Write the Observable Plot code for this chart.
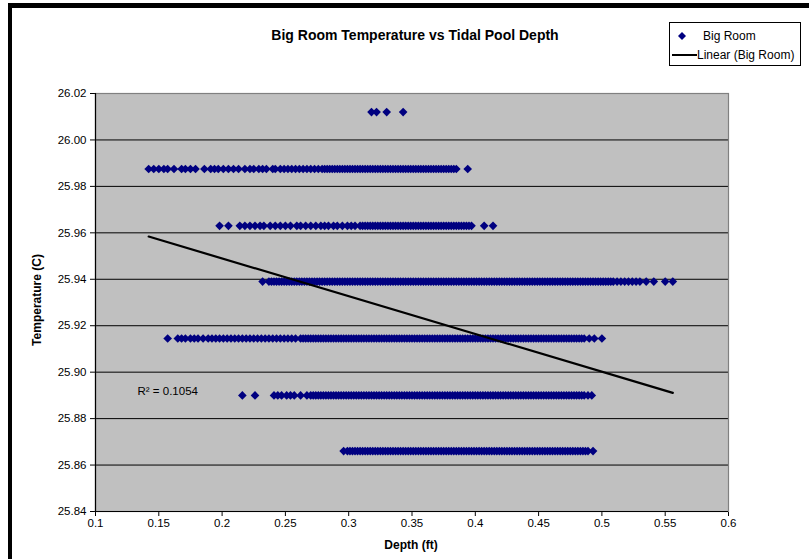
<!DOCTYPE html>
<html>
<head>
<meta charset="utf-8">
<script src="https://cdn.jsdelivr.net/npm/d3@7"></script>
<script src="https://cdn.jsdelivr.net/npm/@observablehq/plot@0.6"></script>
<style>
  html, body { margin: 0; padding: 0; background: #fff; }
  body { width: 809px; height: 559px; overflow: hidden; position: relative; font-family: "Liberation Sans", Arial, sans-serif; }
  #frame { position: absolute; left: 8px; top: 3px; width: 900px; height: 700px; border-top: 5px solid #000; border-left: 4px solid #000; box-sizing: border-box; }
  #chart { position: absolute; left: 0; top: 0; }
  #title { position: absolute; left: 0; width: 830px; top: 27px; text-align: center; font-weight: bold; font-size: 14px; color: #000; }
  #ytitle { position: absolute; left: 37px; top: 300px; transform: translate(-50%, -50%) rotate(-90deg); font-weight: bold; font-size: 12px; white-space: nowrap; }
  #xtitle { position: absolute; left: 411px; top: 545px; transform: translate(-50%, -50%); font-weight: bold; font-size: 12px; white-space: nowrap; }
  #legend { position: absolute; left: 669px; top: 22px; width: 132px; height: 44px; border: 1px solid #000; box-sizing: border-box; background: #fff; font-size: 12px; }
  .lg { position: absolute; left: 0; height: 14px; line-height: 14px; white-space: nowrap; }
  .lg svg { position: absolute; top: 0; }
</style>
</head>
<body>
<div id="frame"></div>
<div id="chart"></div>
<div id="title"></div>
<div id="ytitle"></div>
<div id="xtitle"></div>
<div id="legend"></div>
<script>
// ---- Text ----
const chartTitle = "Big Room Temperature vs Tidal Pool Depth";
const xTitle = "Depth (ft)";
const yTitle = "Temperature (C)";
const seriesName = "Big Room";
const trendName = "Linear (Big Room)";
const r2Label = "R\u00B2 = 0.1054";

// ---- Axis ticks ----
const xTicks = [0.1, 0.15, 0.2, 0.25, 0.3, 0.35, 0.4, 0.45, 0.5, 0.55, 0.6];
const xTickLabels = ["0.1", "0.15", "0.2", "0.25", "0.3", "0.35", "0.4", "0.45", "0.5", "0.55", "0.6"];
const yTicks = [25.84, 25.86, 25.88, 25.90, 25.92, 25.94, 25.96, 25.98, 26.00, 26.02];
const yTickLabels = ["25.84", "25.86", "25.88", "25.90", "25.92", "25.94", "25.96", "25.98", "26.00", "26.02"];
const gridTemps = [25.86, 25.88, 25.90, 25.92, 25.94, 25.96, 25.98, 26.00];

// ---- Data: temperature levels (C) and the depths (ft) observed at each ----
const temps = [26.012, 25.9875, 25.963, 25.939, 25.9145, 25.890, 25.866];

const depths26012 = [0.318, 0.322, 0.330, 0.343];

const depths25988 = [0.142, 0.146, 0.150, 0.154, 0.157, 0.162, 0.168, 0.171, 0.175, 0.179,
  0.186, 0.191, 0.194, 0.197, 0.201, 0.205, 0.209, 0.213, 0.218, 0.222, 0.225, 0.229, 0.232,
  0.235, 0.240, 0.242, 0.246, 0.249, 0.252, 0.255, 0.258, 0.261, 0.264, 0.267, 0.270, 0.273,
  0.276, 0.279, 0.281, 0.283, 0.285, 0.287, 0.289, 0.291, 0.293, 0.295, 0.297, 0.299, 0.301,
  0.303, 0.305, 0.307, 0.309, 0.311, 0.313, 0.315, 0.317, 0.319, 0.321, 0.323, 0.325, 0.327,
  0.329, 0.331, 0.333, 0.335, 0.337, 0.339, 0.341, 0.343, 0.345, 0.347, 0.349, 0.351, 0.353,
  0.355, 0.357, 0.359, 0.361, 0.363, 0.365, 0.367, 0.369, 0.371, 0.373, 0.375, 0.377, 0.379,
  0.381, 0.383, 0.385, 0.394];

const depths25963 = [0.198, 0.205, 0.214, 0.218, 0.222, 0.226, 0.230, 0.233, 0.238, 0.242,
  0.246, 0.250, 0.254, 0.259, 0.262, 0.266, 0.270, 0.274, 0.278, 0.281, 0.284, 0.288, 0.291,
  0.295, 0.299, 0.302, 0.305, 0.309, 0.311, 0.313, 0.315, 0.317, 0.319, 0.321, 0.323, 0.325,
  0.327, 0.329, 0.331, 0.333, 0.335, 0.337, 0.339, 0.341, 0.343, 0.345, 0.347, 0.349, 0.351,
  0.353, 0.355, 0.357, 0.359, 0.361, 0.363, 0.365, 0.367, 0.369, 0.371, 0.373, 0.375, 0.377,
  0.379, 0.381, 0.383, 0.385, 0.387, 0.389, 0.391, 0.393, 0.395, 0.397, 0.407, 0.414];

const depths25939 = [0.232, 0.237, 0.239, 0.241, 0.243, 0.245, 0.247, 0.249, 0.251, 0.253,
  0.255, 0.257, 0.259, 0.261, 0.263, 0.265, 0.267, 0.269, 0.271, 0.273, 0.275, 0.277, 0.279,
  0.281, 0.283, 0.285, 0.287, 0.289, 0.291, 0.293, 0.295, 0.297, 0.299, 0.301, 0.303, 0.305,
  0.307, 0.309, 0.311, 0.313, 0.315, 0.317, 0.319, 0.321, 0.323, 0.325, 0.327, 0.329, 0.331,
  0.333, 0.335, 0.337, 0.339, 0.341, 0.343, 0.345, 0.347, 0.349, 0.351, 0.353, 0.355, 0.357,
  0.359, 0.361, 0.363, 0.365, 0.367, 0.369, 0.371, 0.373, 0.375, 0.377, 0.379, 0.381, 0.383,
  0.385, 0.387, 0.389, 0.391, 0.393, 0.395, 0.397, 0.399, 0.401, 0.403, 0.405, 0.407, 0.409,
  0.411, 0.413, 0.415, 0.417, 0.419, 0.421, 0.423, 0.425, 0.427, 0.429, 0.431, 0.433, 0.435,
  0.437, 0.439, 0.441, 0.443, 0.445, 0.447, 0.449, 0.451, 0.453, 0.455, 0.457, 0.459, 0.461,
  0.463, 0.465, 0.467, 0.469, 0.471, 0.473, 0.475, 0.477, 0.479, 0.481, 0.483, 0.485, 0.487,
  0.489, 0.491, 0.493, 0.495, 0.497, 0.499, 0.501, 0.503, 0.505, 0.507, 0.509, 0.512, 0.515,
  0.518, 0.521, 0.524, 0.527, 0.530, 0.535, 0.541, 0.550, 0.556];

const depths25915 = [0.157, 0.165, 0.168, 0.171, 0.175, 0.178, 0.181, 0.185, 0.189, 0.192,
  0.195, 0.198, 0.201, 0.204, 0.207, 0.210, 0.213, 0.216, 0.219, 0.222, 0.225, 0.228, 0.231,
  0.234, 0.237, 0.240, 0.243, 0.246, 0.249, 0.252, 0.255, 0.258, 0.262, 0.264, 0.266, 0.268,
  0.270, 0.272, 0.274, 0.276, 0.278, 0.280, 0.282, 0.284, 0.286, 0.288, 0.290, 0.292, 0.294,
  0.296, 0.298, 0.300, 0.302, 0.304, 0.306, 0.308, 0.310, 0.312, 0.314, 0.316, 0.318, 0.320,
  0.322, 0.324, 0.326, 0.328, 0.330, 0.332, 0.334, 0.336, 0.338, 0.340, 0.342, 0.344, 0.346,
  0.348, 0.350, 0.352, 0.354, 0.356, 0.358, 0.360, 0.362, 0.364, 0.366, 0.368, 0.370, 0.372,
  0.374, 0.376, 0.378, 0.380, 0.382, 0.384, 0.386, 0.388, 0.390, 0.392, 0.394, 0.396, 0.398,
  0.400, 0.402, 0.404, 0.406, 0.408, 0.410, 0.412, 0.414, 0.416, 0.418, 0.420, 0.422, 0.424,
  0.426, 0.428, 0.430, 0.432, 0.434, 0.436, 0.438, 0.440, 0.442, 0.444, 0.446, 0.448, 0.450,
  0.452, 0.454, 0.456, 0.458, 0.460, 0.462, 0.464, 0.466, 0.468, 0.470, 0.472, 0.474, 0.476,
  0.478, 0.480, 0.482, 0.484, 0.486, 0.490, 0.494, 0.500];

const depths25890 = [0.216, 0.226, 0.241, 0.244, 0.247, 0.251, 0.254, 0.257, 0.262, 0.267,
  0.270, 0.272, 0.274, 0.276, 0.278, 0.280, 0.282, 0.284, 0.286, 0.288, 0.290, 0.292, 0.294,
  0.296, 0.298, 0.300, 0.302, 0.304, 0.306, 0.308, 0.310, 0.312, 0.314, 0.316, 0.318, 0.320,
  0.322, 0.324, 0.326, 0.328, 0.330, 0.332, 0.334, 0.336, 0.338, 0.340, 0.342, 0.344, 0.346,
  0.348, 0.350, 0.352, 0.354, 0.356, 0.358, 0.360, 0.362, 0.364, 0.366, 0.368, 0.370, 0.372,
  0.374, 0.376, 0.378, 0.380, 0.382, 0.384, 0.386, 0.388, 0.390, 0.392, 0.394, 0.396, 0.398,
  0.400, 0.402, 0.404, 0.406, 0.408, 0.410, 0.412, 0.414, 0.416, 0.418, 0.420, 0.422, 0.424,
  0.426, 0.428, 0.430, 0.432, 0.434, 0.436, 0.438, 0.440, 0.442, 0.444, 0.446, 0.448, 0.450,
  0.452, 0.454, 0.456, 0.458, 0.460, 0.462, 0.464, 0.466, 0.468, 0.470, 0.472, 0.474, 0.476,
  0.478, 0.480, 0.482, 0.484, 0.486, 0.489, 0.492];

const depths25866 = [0.296, 0.299, 0.301, 0.303, 0.305, 0.307, 0.309, 0.311, 0.313, 0.315,
  0.317, 0.319, 0.321, 0.323, 0.325, 0.327, 0.329, 0.331, 0.333, 0.335, 0.337, 0.339, 0.341,
  0.343, 0.345, 0.347, 0.349, 0.351, 0.353, 0.355, 0.357, 0.359, 0.361, 0.363, 0.365, 0.367,
  0.369, 0.371, 0.373, 0.375, 0.377, 0.379, 0.381, 0.383, 0.385, 0.387, 0.389, 0.391, 0.393,
  0.395, 0.397, 0.399, 0.401, 0.403, 0.405, 0.407, 0.409, 0.411, 0.413, 0.415, 0.417, 0.419,
  0.421, 0.423, 0.425, 0.427, 0.429, 0.431, 0.433, 0.435, 0.437, 0.439, 0.441, 0.443, 0.445,
  0.447, 0.449, 0.451, 0.453, 0.455, 0.457, 0.459, 0.461, 0.463, 0.465, 0.467, 0.469, 0.471,
  0.473, 0.475, 0.477, 0.479, 0.481, 0.483, 0.485, 0.487, 0.489, 0.493];

const depthLists = [depths26012, depths25988, depths25963, depths25939, depths25915, depths25890, depths25866];

// Linear trend line end points (depth, temperature)
const trendDepths = [0.142, 0.556];
const trendTemps = [25.9584, 25.8911];

// R² annotation position (data coords)
const r2Depth = [0.1332];
const r2Temp = [25.8916];

// ---- Build table ----
const points = [];
temps.forEach((t, i) => depthLists[i].forEach(d => points.push({depth: d, temp: t})));
const trend = trendDepths.map((d, i) => ({depth: d, temp: trendTemps[i]}));

const navy = "#000080";

const chart = Plot.plot({
  width: 809,
  height: 559,
  marginLeft: 95,
  marginRight: 81,
  marginTop: 93,
  marginBottom: 48,
  style: {fontFamily: "'Liberation Sans', Arial, sans-serif", fontSize: "11.5px", background: "transparent", color: "#000", overflow: "visible"},
  x: {
    domain: [0.1, 0.6],
    ticks: xTicks,
    tickFormat: d => xTickLabels[xTicks.indexOf(d)],
    tickSize: 5,
    tickPadding: 2,
    label: null
  },
  y: {
    domain: [25.84, 26.02],
    ticks: yTicks,
    tickFormat: d => yTickLabels[yTicks.indexOf(d)],
    tickSize: 5,
    tickPadding: 4,
    label: null
  },
  marks: [
    Plot.frame({fill: "#C0C0C0"}),
    Plot.ruleY(gridTemps, {stroke: "#000", strokeWidth: 1}),
    Plot.frame({stroke: "#808080", strokeWidth: 1.2}),
    Plot.ruleX([0.1], {stroke: "#000", strokeWidth: 1.2}),
    Plot.ruleY([25.84], {stroke: "#000", strokeWidth: 1.2}),
    Plot.dot(points, {x: "depth", y: "temp", symbol: "diamond2", r: 3.9, fill: navy, stroke: "none"}),
    Plot.line(trend, {x: "depth", y: "temp", stroke: "#000", strokeWidth: 2.2}),
    Plot.text(r2Depth, {x: d => d, y: (d, i) => r2Temp[i], text: () => r2Label, textAnchor: "start", fill: "#000", fontSize: 11.5})
  ]
});
document.getElementById("chart").appendChild(chart);

document.getElementById("title").textContent = chartTitle;
document.getElementById("ytitle").textContent = yTitle;
document.getElementById("xtitle").textContent = xTitle;

const legend = document.getElementById("legend");
legend.innerHTML =
  `<div class="lg" style="top:6px;"><svg width="20" height="14" style="left:6px"><path d="M6,3 L10,7 L6,11 L2,7 Z" fill="${navy}"/></svg><span style="position:absolute;left:33px;">${seriesName}</span></div>` +
  `<div class="lg" style="top:25px;"><svg width="30" height="14" style="left:2px"><line x1="0" y1="7" x2="25" y2="7" stroke="#000" stroke-width="2"/></svg><span style="position:absolute;left:27px;">${trendName}</span></div>`;
</script>
</body>
</html>
